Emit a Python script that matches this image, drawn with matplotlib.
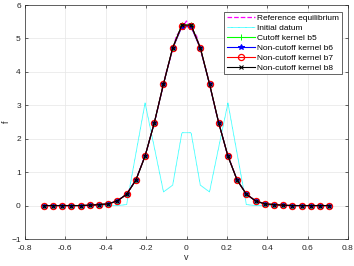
import matplotlib
matplotlib.use("Agg")
import matplotlib.pyplot as plt

plt.rcParams['font.family'] = ['Liberation Sans', 'DejaVu Sans']

# velocity grid (32 points)
v = [-0.7071, -0.6615, -0.6159, -0.5703, -0.5246, -0.4790, -0.4334, -0.3878,
     -0.3421, -0.2965, -0.2509, -0.2053, -0.1597, -0.1140, -0.0684, -0.0228,
     0.0228, 0.0684, 0.1140, 0.1597, 0.2053, 0.2509, 0.2965, 0.3421,
     0.3878, 0.4334, 0.4790, 0.5246, 0.5703, 0.6159, 0.6615, 0.7071]

# reference equilibrium (finer sampling)
v_ref = [-0.70, -0.65, -0.60, -0.55, -0.50, -0.45, -0.40, -0.35, -0.30, -0.25,
         -0.20, -0.15, -0.10, -0.05, 0.0, 0.05, 0.10, 0.15, 0.20, 0.25,
         0.30, 0.35, 0.40, 0.45, 0.50, 0.55, 0.60, 0.65, 0.70]
f_ref = [0.0, 0.0, 0.0, 0.0, 0.0, 0.01, 0.04, 0.12, 0.32, 0.78,
         1.58, 2.70, 4.00, 5.07, 5.52, 5.07, 4.00, 2.70, 1.58, 0.78,
         0.32, 0.12, 0.04, 0.01, 0.0, 0.0, 0.0, 0.0, 0.0]

f_init = [0.0, 0.0, 0.0, 0.0, 0.0, 0.0, 0.0, 0.0,
          0.0, 0.03, 1.55, 3.07, 1.75, 0.41, 0.61, 2.18,
          2.18, 0.61, 0.41, 1.75, 3.07, 1.55, 0.03, 0.0,
          0.0, 0.0, 0.0, 0.0, 0.0, 0.0, 0.0, 0.0]

f_b5 = [0.0, 0.0, 0.0, 0.0, 0.0, 0.01, 0.03, 0.05,
        0.14, 0.34, 0.76, 1.48, 2.47, 3.64, 4.72, 5.40,
        5.40, 4.72, 3.64, 2.47, 1.48, 0.76, 0.34, 0.14,
        0.05, 0.03, 0.01, 0.0, 0.0, 0.0, 0.0, 0.0]
f_b6 = [0.0, 0.0, 0.0, 0.0, 0.0, 0.01, 0.03, 0.05,
        0.14, 0.34, 0.76, 1.48, 2.47, 3.63, 4.70, 5.35,
        5.35, 4.70, 3.63, 2.47, 1.48, 0.76, 0.34, 0.14,
        0.05, 0.03, 0.01, 0.0, 0.0, 0.0, 0.0, 0.0]
f_b7 = [0.0, 0.0, 0.0, 0.0, 0.0, 0.01, 0.03, 0.05,
        0.14, 0.34, 0.76, 1.48, 2.47, 3.64, 4.71, 5.38,
        5.38, 4.71, 3.64, 2.47, 1.48, 0.76, 0.34, 0.14,
        0.05, 0.03, 0.01, 0.0, 0.0, 0.0, 0.0, 0.0]
f_b8 = [0.0, 0.0, 0.0, 0.0, 0.0, 0.01, 0.03, 0.05,
        0.14, 0.34, 0.76, 1.48, 2.47, 3.64, 4.72, 5.40,
        5.40, 4.72, 3.64, 2.47, 1.48, 0.76, 0.34, 0.14,
        0.05, 0.03, 0.01, 0.0, 0.0, 0.0, 0.0, 0.0]

fig = plt.figure(figsize=(3.54, 2.66), dpi=100)
ax = fig.add_axes([25/354, 1-239/266, 323/354, 234/266])

ax.plot(v_ref, f_ref, '--', color='magenta', lw=0.9, label='Reference equilibrium')
ax.plot(v, f_init, color='cyan', lw=0.6, linestyle=(0, (1, 0.4)), label='Initial datum')
ax.plot(v, f_b5, '-+', color='#00ff00', lw=0.8, ms=4, mew=0.7, label='Cutoff kernel b5')
ax.plot(v, f_b6, '-*', color='blue', lw=0.8, ms=4, mew=0.7, label='Non-cutoff kernel b6')
ax.plot(v, f_b7, '-o', color='red', lw=0.8, ms=4.4, mew=0.9, mfc='none', label='Non-cutoff kernel b7')
ax.plot(v, f_b8, '-x', color='black', lw=0.8, ms=2.8, mew=0.8, label='Non-cutoff kernel b8')

ax.set_xlim(-0.8, 0.8)
ax.set_ylim(-1, 6)
ax.set_xticks([-0.8, -0.6, -0.4, -0.2, 0, 0.2, 0.4, 0.6, 0.8])
ax.set_xticklabels(['-0.8', '-0.6', '-0.4', '-0.2', '0', '0.2', '0.4', '0.6', '0.8'])
ax.set_yticks(range(-1, 7))
ax.grid(True, color='#e6e6e6', lw=0.5)
ax.set_axisbelow(True)
ax.tick_params(direction='in', length=2.5, width=0.5, labelsize=6, colors='#262626',
               top=True, right=True)
ax.tick_params(axis='x', pad=4)
ax.tick_params(axis='y', pad=3)
for s in ax.spines.values():
    s.set_color('#262626')
    s.set_linewidth(0.5)
ax.set_xlabel('v', fontsize=6.5, color='#262626', labelpad=1)
ax.set_ylabel('f', fontsize=6.5, color='#262626')
ax.yaxis.set_label_coords(-0.045, 0.5)

leg = ax.legend(loc='upper right', bbox_to_anchor=(0.981, 0.970), borderaxespad=0,
                fontsize=6, handlelength=3.4, handletextpad=0.3, labelspacing=0.25,
                borderpad=0.3, fancybox=False, framealpha=1)
leg.get_frame().set_edgecolor('#262626')
leg.get_frame().set_linewidth(0.5)

fig.savefig('out.png', dpi=100)
